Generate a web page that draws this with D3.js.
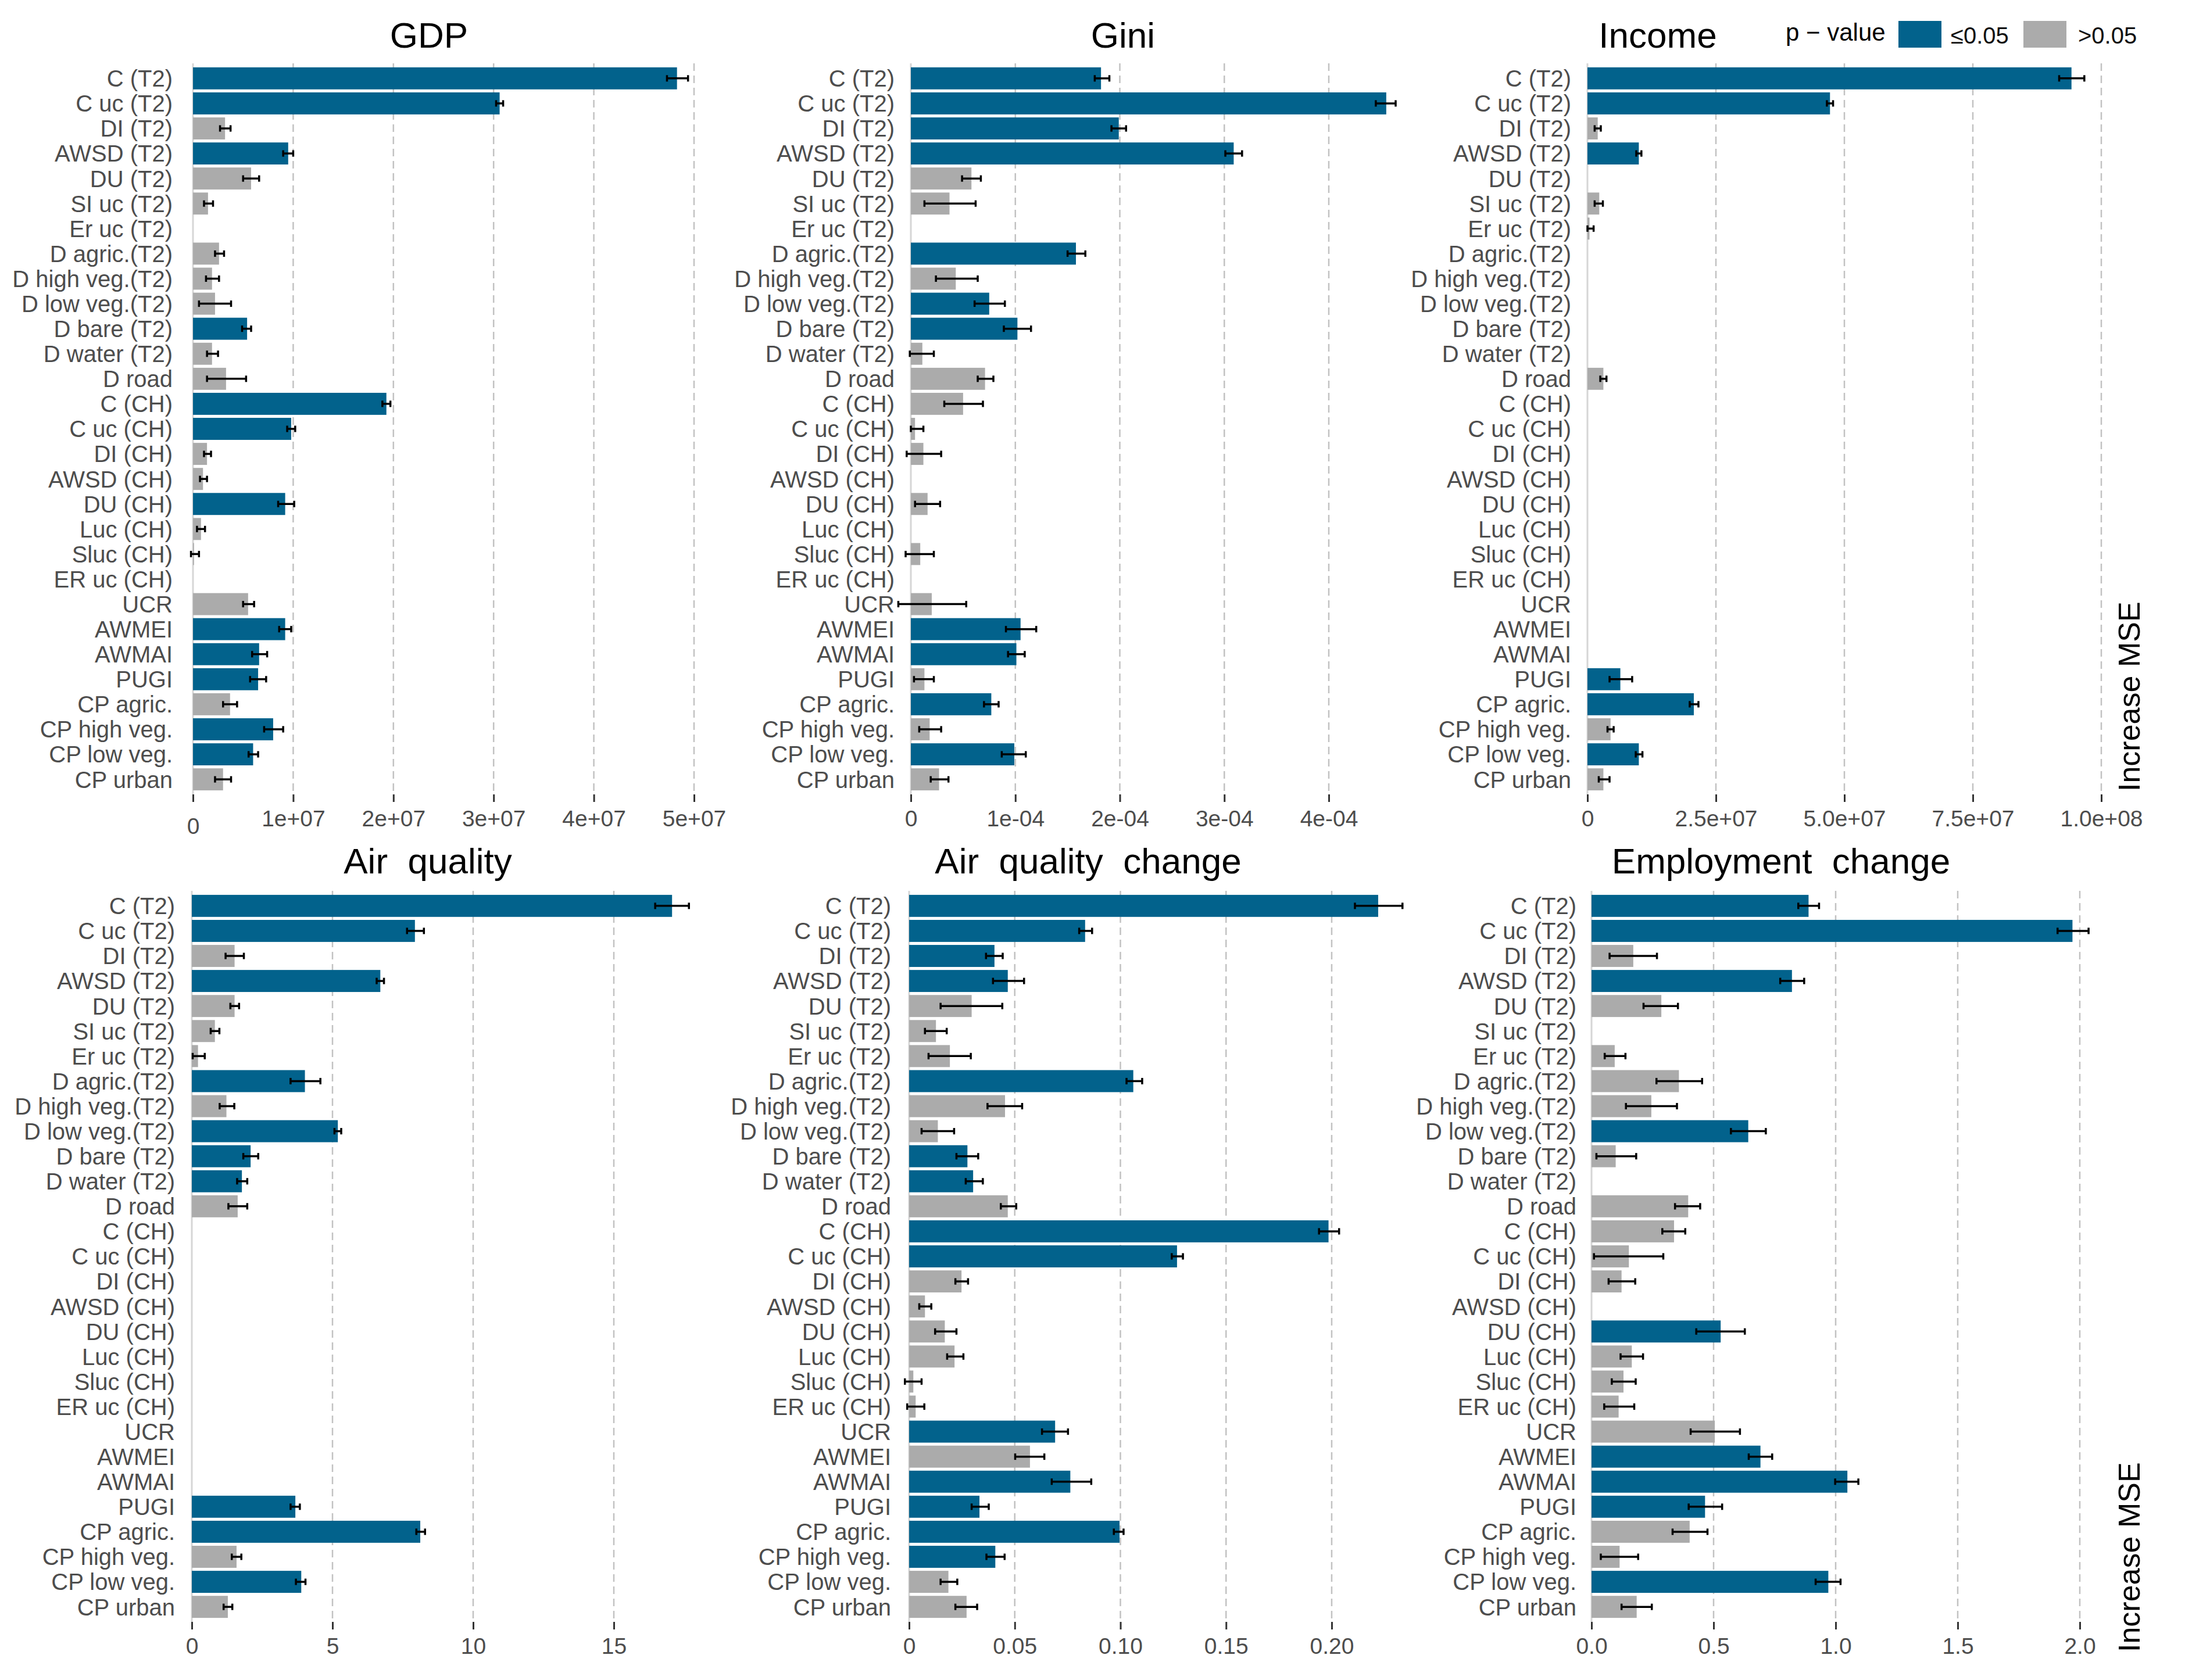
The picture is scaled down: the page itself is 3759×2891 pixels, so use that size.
<!DOCTYPE html>
<html>
<head>
<meta charset="utf-8">
<script src="https://cdn.jsdelivr.net/npm/d3@7"></script>
<style>
  html, body { margin: 0; padding: 0; background: #ffffff; }
  svg { display: block; }
  text { font-family: "Liberation Sans", Arial, Helvetica, sans-serif; }
</style>
</head>
<body>
<script>
// ---------------- DATA ----------------
const categories = [
  "C (T2)", "C uc (T2)", "DI (T2)", "AWSD (T2)", "DU (T2)", "SI uc (T2)", "Er uc (T2)",
  "D agric.(T2)", "D high veg.(T2)", "D low veg.(T2)", "D bare (T2)", "D water (T2)",
  "D road", "C (CH)", "C uc (CH)", "DI (CH)", "AWSD (CH)", "DU (CH)", "Luc (CH)",
  "Sluc (CH)", "ER uc (CH)", "UCR", "AWMEI", "AWMAI", "PUGI", "CP agric.",
  "CP high veg.", "CP low veg.", "CP urban"
];

// 1 = p-value <= 0.05, 0 = p-value > 0.05, null = no bar
const gdpValues = [4.83e7, 3.06e7, 0.32e7, 0.95e7, 0.58e7, 0.15e7, null, 0.26e7, 0.19e7, 0.22e7, 0.54e7, 0.19e7, 0.33e7, 1.93e7, 0.98e7, 0.14e7, 0.10e7, 0.92e7, 0.08e7, 0.01e7, null, 0.55e7, 0.92e7, 0.66e7, 0.65e7, 0.37e7, 0.80e7, 0.60e7, 0.30e7];
const gdpLow    = [4.73e7, 3.025e7, 0.27e7, 0.90e7, 0.50e7, 0.11e7, null, 0.22e7, 0.13e7, 0.06e7, 0.49e7, 0.14e7, 0.14e7, 1.89e7, 0.94e7, 0.11e7, 0.07e7, 0.85e7, 0.04e7, -0.02e7, null, 0.50e7, 0.86e7, 0.59e7, 0.57e7, 0.30e7, 0.71e7, 0.555e7, 0.22e7];
const gdpHigh   = [4.94e7, 3.095e7, 0.375e7, 1.00e7, 0.66e7, 0.20e7, null, 0.31e7, 0.26e7, 0.38e7, 0.58e7, 0.25e7, 0.53e7, 1.97e7, 1.02e7, 0.18e7, 0.14e7, 1.01e7, 0.12e7, 0.06e7, null, 0.61e7, 0.98e7, 0.74e7, 0.73e7, 0.44e7, 0.90e7, 0.65e7, 0.38e7];
const gdpSig    = [1, 1, 0, 1, 0, 0, null, 0, 0, 0, 1, 0, 0, 1, 1, 0, 0, 1, 0, 0, null, 0, 1, 1, 1, 0, 1, 1, 0];

const giniValues = [1.82e-4, 4.55e-4, 1.99e-4, 3.09e-4, 0.58e-4, 0.37e-4, null, 1.58e-4, 0.43e-4, 0.75e-4, 1.02e-4, 0.11e-4, 0.71e-4, 0.50e-4, 0.04e-4, 0.12e-4, null, 0.16e-4, null, 0.09e-4, null, 0.20e-4, 1.05e-4, 1.01e-4, 0.13e-4, 0.77e-4, 0.18e-4, 0.99e-4, 0.27e-4];
const giniLow    = [1.76e-4, 4.45e-4, 1.92e-4, 3.01e-4, 0.49e-4, 0.13e-4, null, 1.50e-4, 0.24e-4, 0.61e-4, 0.89e-4, -0.01e-4, 0.64e-4, 0.32e-4, 0.00, -0.04e-4, null, 0.04e-4, null, -0.05e-4, null, -0.12e-4, 0.91e-4, 0.93e-4, 0.03e-4, 0.70e-4, 0.08e-4, 0.87e-4, 0.19e-4];
const giniHigh   = [1.90e-4, 4.64e-4, 2.06e-4, 3.17e-4, 0.67e-4, 0.62e-4, null, 1.67e-4, 0.64e-4, 0.90e-4, 1.15e-4, 0.22e-4, 0.79e-4, 0.69e-4, 0.12e-4, 0.29e-4, null, 0.28e-4, null, 0.22e-4, null, 0.53e-4, 1.20e-4, 1.09e-4, 0.22e-4, 0.84e-4, 0.29e-4, 1.10e-4, 0.36e-4];
const giniSig    = [1, 1, 1, 1, 0, 0, null, 1, 0, 1, 1, 0, 0, 0, 0, 0, null, 0, null, 0, null, 0, 1, 1, 0, 1, 0, 1, 0];

const incomeValues = [9.42e7, 4.72e7, 0.20e7, 1.00e7, null, 0.23e7, 0.04e7, null, null, null, null, null, 0.31e7, null, null, null, null, null, null, null, null, null, null, null, 0.64e7, 2.07e7, 0.45e7, 1.00e7, 0.31e7];
const incomeLow    = [9.18e7, 4.66e7, 0.14e7, 0.95e7, null, 0.14e7, 0.00, null, null, null, null, null, 0.25e7, null, null, null, null, null, null, null, null, null, null, null, 0.43e7, 1.99e7, 0.39e7, 0.94e7, 0.22e7];
const incomeHigh   = [9.67e7, 4.78e7, 0.26e7, 1.05e7, null, 0.30e7, 0.12e7, null, null, null, null, null, 0.37e7, null, null, null, null, null, null, null, null, null, null, null, 0.87e7, 2.16e7, 0.51e7, 1.07e7, 0.43e7];
const incomeSig    = [1, 1, 0, 1, null, 0, 0, null, null, null, null, null, 0, null, null, null, null, null, null, null, null, null, null, null, 1, 1, 0, 1, 0];

const airValues = [17.07, 7.93, 1.52, 6.70, 1.52, 0.82, 0.22, 4.02, 1.23, 5.19, 2.09, 1.78, 1.63, null, null, null, null, null, null, null, null, null, null, null, 3.68, 8.12, 1.59, 3.89, 1.28];
const airLow    = [16.47, 7.65, 1.20, 6.57, 1.37, 0.67, 0.03, 3.51, 0.99, 5.07, 1.83, 1.61, 1.30, null, null, null, null, null, null, null, null, null, null, null, 3.51, 7.98, 1.42, 3.70, 1.13];
const airHigh   = [17.67, 8.25, 1.85, 6.83, 1.68, 0.98, 0.46, 4.57, 1.51, 5.31, 2.36, 1.97, 1.97, null, null, null, null, null, null, null, null, null, null, null, 3.84, 8.29, 1.76, 4.04, 1.44];
const airSig    = [1, 1, 0, 1, 0, 0, 0, 1, 0, 1, 1, 1, 0, null, null, null, null, null, null, null, null, null, null, null, 1, 1, 0, 1, 0];

const airChgValues = [0.2220, 0.0833, 0.0404, 0.0467, 0.0296, 0.0127, 0.0193, 0.1061, 0.0454, 0.0136, 0.0276, 0.0303, 0.0467, 0.1985, 0.1268, 0.0248, 0.0075, 0.0169, 0.0215, 0.0020, 0.0031, 0.0691, 0.0572, 0.0763, 0.0333, 0.0996, 0.0408, 0.0186, 0.0272];
const airChgLow    = [0.2110, 0.0805, 0.0364, 0.0397, 0.0149, 0.0075, 0.0092, 0.1029, 0.0371, 0.0059, 0.0224, 0.0268, 0.0434, 0.1940, 0.1243, 0.0219, 0.0048, 0.0123, 0.0180, -0.0020, -0.0009, 0.0629, 0.0502, 0.0675, 0.0296, 0.0969, 0.0366, 0.0149, 0.0219];
const airChgHigh   = [0.2335, 0.0866, 0.0443, 0.0544, 0.0441, 0.0178, 0.0292, 0.1103, 0.0535, 0.0213, 0.0327, 0.0349, 0.0507, 0.2035, 0.1296, 0.0279, 0.0105, 0.0224, 0.0257, 0.0059, 0.0072, 0.0752, 0.0640, 0.0862, 0.0377, 0.1015, 0.0452, 0.0228, 0.0322];
const airChgSig    = [1, 1, 1, 1, 0, 0, 0, 1, 0, 0, 1, 1, 0, 1, 1, 0, 0, 0, 0, 0, 0, 1, 0, 1, 1, 1, 1, 0, 0];

const empValues = [0.889, 1.970, 0.171, 0.821, 0.286, null, 0.095, 0.358, 0.245, 0.642, 0.099, null, 0.396, 0.338, 0.153, 0.123, null, 0.529, 0.165, 0.131, 0.111, 0.505, 0.692, 1.048, 0.465, 0.402, 0.115, 0.970, 0.185];
const empLow    = [0.847, 1.909, 0.074, 0.773, 0.213, null, 0.054, 0.266, 0.141, 0.571, 0.020, null, 0.342, 0.290, 0.010, 0.070, null, 0.429, 0.119, 0.083, 0.052, 0.406, 0.644, 0.998, 0.398, 0.332, 0.038, 0.918, 0.123];
const empHigh   = [0.932, 2.036, 0.268, 0.871, 0.354, null, 0.139, 0.453, 0.350, 0.714, 0.183, null, 0.445, 0.384, 0.294, 0.179, null, 0.628, 0.211, 0.181, 0.175, 0.608, 0.740, 1.093, 0.535, 0.475, 0.191, 1.020, 0.247];
const empSig    = [1, 1, 0, 1, 0, null, 0, 0, 0, 1, 0, null, 0, 0, 0, 0, null, 1, 0, 0, 0, 0, 1, 1, 1, 0, 0, 1, 0];

const gdpTicks = [0, 1e7, 2e7, 3e7, 4e7, 5e7];
const gdpTickLabels = ["0", "1e+07", "2e+07", "3e+07", "4e+07", "5e+07"];
const giniTicks = [0, 1e-4, 2e-4, 3e-4, 4e-4];
const giniTickLabels = ["0", "1e-04", "2e-04", "3e-04", "4e-04"];
const incomeTicks = [0, 2.5e7, 5e7, 7.5e7, 1e8];
const incomeTickLabels = ["0", "2.5e+07", "5.0e+07", "7.5e+07", "1.0e+08"];
const airTicks = [0, 5, 10, 15];
const airTickLabels = ["0", "5", "10", "15"];
const airChgTicks = [0, 0.05, 0.10, 0.15, 0.20];
const airChgTickLabels = ["0", "0.05", "0.10", "0.15", "0.20"];
const empTicks = [0, 0.5, 1.0, 1.5, 2.0];
const empTickLabels = ["0.0", "0.5", "1.0", "1.5", "2.0"];

const legendTitle = "p \u2212 value";
const legendLabels = ["\u22640.05", ">0.05"];
const axisTitle = "Increase MSE";

// ---------------- STYLE / LAYOUT ----------------
const W = 3759, H = 2891;
const BLUE = "#02628c", GREY = "#ababab";
const LABEL_COL = "#4d4d4d";

const panels = [
  { title: "GDP", v: gdpValues, lo: gdpLow, hi: gdpHigh, sig: gdpSig, ticks: gdpTicks, tickLabels: gdpTickLabels,
    x0: 332, x1: 1194, top: 109, bottom: 1367, labelX: 297, titleX: 738, titleY: 82, zeroDrop: 13 },
  { title: "Gini", v: giniValues, lo: giniLow, hi: giniHigh, sig: giniSig, ticks: giniTicks, tickLabels: giniTickLabels,
    x0: 1567, x1: 2286, top: 109, bottom: 1367, labelX: 1539, titleX: 1932, titleY: 82, zeroDrop: 0 },
  { title: "Income", v: incomeValues, lo: incomeLow, hi: incomeHigh, sig: incomeSig, ticks: incomeTicks, tickLabels: incomeTickLabels,
    x0: 2731, x1: 3615, top: 109, bottom: 1367, labelX: 2703, titleX: 2852, titleY: 82, zeroDrop: 0 },
  { title: "Air  quality", v: airValues, lo: airLow, hi: airHigh, sig: airSig, ticks: airTicks, tickLabels: airTickLabels,
    x0: 330, x1: 1056, top: 1533, bottom: 2791, labelX: 301, titleX: 736, titleY: 1503, zeroDrop: 0 },
  { title: "Air  quality  change", v: airChgValues, lo: airChgLow, hi: airChgHigh, sig: airChgSig, ticks: airChgTicks, tickLabels: airChgTickLabels,
    x0: 1564, x1: 2291, top: 1533, bottom: 2791, labelX: 1533, titleX: 1872, titleY: 1503, zeroDrop: 0 },
  { title: "Employment  change", v: empValues, lo: empLow, hi: empHigh, sig: empSig, ticks: empTicks, tickLabels: empTickLabels,
    x0: 2738, x1: 3578, top: 1533, bottom: 2791, labelX: 2712, titleX: 3064, titleY: 1503, zeroDrop: 0 }
];

const svg = d3.select("body").append("svg")
  .attr("width", W).attr("height", H)
  .attr("viewBox", `0 0 ${W} ${H}`);
svg.append("rect").attr("width", W).attr("height", H).attr("fill", "#ffffff");

panels.forEach(p => {
  const g = svg.append("g");
  const x = d3.scaleLinear().domain([p.ticks[0], p.ticks[p.ticks.length - 1]]).range([p.x0, p.x1]);
  const y = d3.scaleBand().domain(categories).range([p.top, p.bottom]).paddingInner(0.12).paddingOuter(0.16);

  // dashed grid lines
  g.append("g").selectAll("line").data(p.ticks.filter(t => t !== 0)).join("line")
    .attr("x1", d => x(d)).attr("x2", d => x(d))
    .attr("y1", p.top).attr("y2", p.bottom)
    .attr("stroke", "#c2c2c2").attr("stroke-width", 2.5)
    .attr("stroke-dasharray", "13,8");

  // zero axis line
  g.append("line")
    .attr("x1", x(0)).attr("x2", x(0)).attr("y1", p.top).attr("y2", p.bottom)
    .attr("stroke", "#d6d6d6").attr("stroke-width", 3);

  const rows = categories.map((c, i) => ({ c, v: p.v[i], lo: p.lo[i], hi: p.hi[i], s: p.sig[i] }))
    .filter(d => d.v !== null);

  // bars
  g.append("g").selectAll("rect").data(rows).join("rect")
    .attr("x", d => Math.min(x(0), x(d.v)))
    .attr("width", d => Math.abs(x(d.v) - x(0)))
    .attr("y", d => y(d.c))
    .attr("height", y.bandwidth())
    .attr("fill", d => d.s === 1 ? BLUE : GREY);

  // error bars
  const eb = g.append("g").attr("stroke", "#000").attr("stroke-width", 3.5);
  const cy = d => y(d.c) + y.bandwidth() / 2;
  eb.selectAll("line.h").data(rows).join("line").attr("class", "h")
    .attr("x1", d => x(d.lo)).attr("x2", d => x(d.hi))
    .attr("y1", cy).attr("y2", cy);
  eb.selectAll("line.l").data(rows).join("line").attr("class", "l")
    .attr("x1", d => x(d.lo)).attr("x2", d => x(d.lo))
    .attr("y1", d => cy(d) - 5.5).attr("y2", d => cy(d) + 5.5);
  eb.selectAll("line.r").data(rows).join("line").attr("class", "r")
    .attr("x1", d => x(d.hi)).attr("x2", d => x(d.hi))
    .attr("y1", d => cy(d) - 5.5).attr("y2", d => cy(d) + 5.5);

  // category labels
  g.append("g").selectAll("text").data(categories).join("text")
    .attr("x", p.labelX)
    .attr("y", d => y(d) + y.bandwidth() / 2)
    .attr("dy", "0.36em")
    .attr("text-anchor", "end")
    .attr("font-size", 40)
    .attr("fill", LABEL_COL)
    .text(d => d);

  // x axis
  const axis = d3.axisBottom(x).tickValues(p.ticks)
    .tickFormat((d, i) => p.tickLabels[i]).tickSize(13).tickPadding(0);
  const ag = g.append("g").attr("transform", `translate(0,${p.bottom})`).call(axis);
  ag.select(".domain").remove();
  ag.selectAll(".tick line").attr("stroke", "#333333").attr("stroke-width", 3);
  ag.selectAll(".tick text")
    .attr("font-family", "\"Liberation Sans\", Arial, sans-serif")
    .attr("font-size", 39)
    .attr("fill", LABEL_COL)
    .attr("dy", null)
    .attr("y", (d, i) => 55 + (i === 0 ? p.zeroDrop : 0));

  // title
  svg.append("text")
    .attr("x", p.titleX).attr("y", p.titleY)
    .attr("text-anchor", "middle")
    .attr("font-size", 62)
    .attr("fill", "#000")
    .style("white-space", "pre")
    .text(p.title);
});

// Legend
const lg = svg.append("g");
lg.append("text").attr("x", 3072).attr("y", 70).attr("font-size", 42).attr("fill", "#000")
  .style("white-space", "pre").text(legendTitle);
const legendItems = [
  { label: legendLabels[0], color: BLUE, rx: 3266, tx: 3356 },
  { label: legendLabels[1], color: GREY, rx: 3481, tx: 3575 }
];
lg.selectAll("rect").data(legendItems).join("rect")
  .attr("x", d => d.rx).attr("y", 36).attr("width", 74).attr("height", 46)
  .attr("fill", d => d.color);
lg.selectAll("text.lab").data(legendItems).join("text").attr("class", "lab")
  .attr("x", d => d.tx).attr("y", 75).attr("font-size", 40).attr("fill", "#111")
  .text(d => d.label);

// Rotated axis titles ("Increase MSE")
[1362, 2843].forEach(yEnd => {
  svg.append("text")
    .attr("transform", `translate(3681,${yEnd}) rotate(-90)`)
    .attr("text-anchor", "start")
    .attr("font-size", 52)
    .attr("fill", "#000")
    .text(axisTitle);
});
</script>
</body>
</html>
